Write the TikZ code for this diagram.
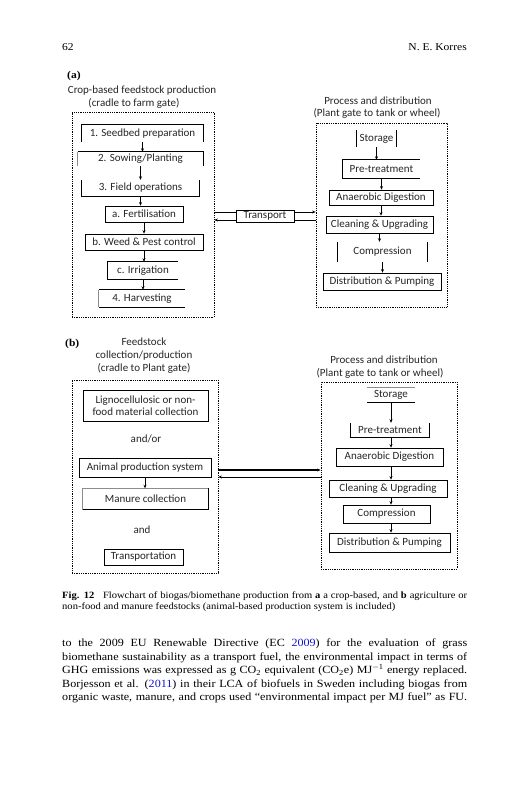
\documentclass[tikz,border=0pt]{standalone}
\usepackage{fontspec}
\setmainfont{Liberation Serif}[FakeStretch=1.1]
\newfontfamily\dfont{Carlito}
\usetikzlibrary{arrows.meta}
\definecolor{linkblue}{RGB}{20,20,210}
\begin{document}
\begin{tikzpicture}[x=1pt,y=-1pt,
  dtext/.style={font=\dfont\fontsize{11}{12.5}\selectfont, inner sep=0pt, text=black!85},
  bx/.style={dtext, rectangle, align=center},
  full/.style={draw, line width=0.7pt},
  edge/.style={line width=0.7pt},
  gedge/.style={line width=0.7pt, draw=black!45},
  arr/.style={-{Stealth[length=3.5pt,width=3pt]}, line width=0.6pt},
  dbox/.style={draw, densely dotted, line width=0.8pt, inner sep=0pt},
  serif/.style={inner sep=0pt, font=\fontsize{10.5}{12}\selectfont},
  body/.style={anchor=base west, inner sep=0pt, font=\fontsize{11}{13.5}\selectfont},
  capt/.style={anchor=base west, inner sep=0pt, font=\fontsize{9.6}{11}\selectfont}]
\useasboundingbox (0,0) rectangle (527,800);
\fill[white] (0,0) rectangle (527,800);

% page header
\node[serif, anchor=base west] (pg) at (62,51) {62};
\node[serif, anchor=base east] (au) at (467,51) {N. E. Korres};

% ---------------- (a) ----------------
\node[serif, anchor=west, font=\bfseries\fontsize{10.5}{12}\selectfont] (la) at (67,76) {(a)};
\node[dtext] (ha1) at (142,91) {Crop-based feedstock production};
\node[dtext] (ha2) at (134,103) {(cradle to farm gate)};
\node[dtext] (ha3) at (378,101) {Process and distribution};
\node[dtext] (ha4) at (377,113) {(Plant gate to tank or wheel)};

\node[dbox, minimum width=142pt, minimum height=205pt] (L1) at (143,214.5) {};
\node[dbox, minimum width=131pt, minimum height=184pt] (R1) at (381.5,215) {};

\node[bx, minimum width=121pt, minimum height=17pt] (a1) at (142.5,133.5) {1. Seedbed preparation};
\draw[edge] (a1.south west) -- (a1.north west) -- (a1.north east) -- (a1.south east);
\node[bx, minimum width=125pt, minimum height=14pt] (a2) at (140.5,159) {2. Sowing/Planting};
\draw[edge] (a2.north west) -- (a2.north east) -- (a2.south east);
\draw[gedge] (a2.north west) -- (a2.south west);
\node[bx, minimum width=117pt, minimum height=16pt] (a3) at (140.5,188) {3. Field operations};
\draw[edge] (a3.north west) -- (a3.south west) -- (a3.south east) -- (a3.north east);
\node[bx, full, minimum width=78pt, minimum height=16pt] (a4) at (144,214) {a. Fertilisation};
\node[bx, full, minimum width=118pt, minimum height=16pt] (a5) at (144,242) {b. Weed \& Pest control};
\node[bx, minimum width=70pt, minimum height=17pt] (a6) at (143,270.5) {c. Irrigation};
\draw[edge] (a6.north east) -- (a6.north west) -- (a6.south west) -- (a6.south east);
\node[bx, minimum width=86pt, minimum height=17pt] (a7) at (142,298.5) {4. Harvesting};
\draw[edge] (a7.north east) -- (a7.north west);
\draw[edge] (a7.south west) -- (a7.south east);
\draw[gedge] (a7.north west) -- (a7.south west);

\draw[arr] (a1.south) -- (a1.south |- a2.north);
\draw[arr] (a2.south) -- (a2.south |- a3.north);
\draw[arr] (a3.south) -- (a3.south |- a4.north);
\draw[arr] (a4.south) -- (a4.south |- a5.north);
\draw[arr] (a5.south) -- (a5.south |- a6.north);
\draw[arr] (a6.south) -- (a6.south |- a7.north);

\node[bx, full, minimum width=58pt, minimum height=12pt] (T) at (265,216) {Transport};
\draw[edge] ([yshift=4pt]T.west) -- ([yshift=4pt]T.west -| L1.east);
\draw[arr] ([yshift=4pt]T.east) -- ([yshift=4pt]T.east -| R1.west);
\draw[edge] ([yshift=-4pt]T.east) -- ([yshift=-4pt]T.east -| R1.west);
\draw[arr] ([yshift=-4pt]T.west) -- ([yshift=-4pt]T.west -| L1.east);

\node[bx, minimum width=39pt, minimum height=17pt] (r1) at (376.5,138.5) {Storage};
\draw[edge] (r1.north west) -- (r1.south west);
\draw[edge] (r1.north east) -- (r1.south east);
\node[bx, minimum width=77pt, minimum height=18pt] (r2) at (381.5,169) {Pre-treatment};
\draw[edge] (r2.north east) -- (r2.north west) -- (r2.south west) -- (r2.south east);
\node[bx, full, minimum width=104pt, minimum height=15pt] (r3) at (381,197.5) {Anaerobic Digestion};
\node[bx, full, minimum width=107pt, minimum height=17pt] (r4) at (379.5,224.5) {Cleaning \& Upgrading};
\node[bx, minimum width=89pt, minimum height=20pt] (r5) at (382.5,252) {Compression};
\draw[edge] (r5.north west) -- (r5.south west);
\draw[edge] (r5.north east) -- (r5.south east);
\node[bx, full, minimum width=118pt, minimum height=17pt] (r6) at (382,281.5) {Distribution \& Pumping};

\draw[arr] (r1.south) -- (r1.south |- r2.north);
\draw[arr] (r2.south) -- (r2.south |- r3.north);
\draw[arr] (r3.south) -- (r3.south |- r4.north);
\draw[arr] (r4.south) -- (r4.south |- r5.north);
\draw[arr] (r5.south) -- (r5.south |- r6.north);

% ---------------- (b) ----------------
\node[serif, anchor=west, font=\bfseries\fontsize{10.5}{12}\selectfont] (lb) at (65,344) {(b)};
\node[dtext] (hb1) at (144,342) {Feedstock};
\node[dtext] (hb2) at (144,356) {collection/production};
\node[dtext] (hb3) at (144,368) {(cradle to Plant gate)};
\node[dtext] (hb4) at (384,360) {Process and distribution};
\node[dtext] (hb5) at (380,373) {(Plant gate to tank or wheel)};

\node[dbox, minimum width=146pt, minimum height=193pt] (L2) at (145,476.5) {};
\node[dbox, minimum width=136pt, minimum height=187pt] (R2) at (389,475.5) {};

\node[bx, full, minimum width=125pt, minimum height=31pt] (b1) at (145.5,405.5) {Lignocellulosic or non-\\food material collection};
\node[dtext] (andor) at (146,439) {and/or};
\node[bx, full, minimum width=132pt, minimum height=19pt] (b2) at (145,467.5) {Animal production system};
\node[bx, minimum width=125pt, minimum height=21pt] (b3) at (145.5,499) {Manure collection};
\draw[gedge] (b3.south west) -- (b3.north west) -- (b3.north east);
\draw[edge] (b3.north east) -- (b3.south east) -- (b3.south west);
\node[dtext] (and) at (142,530) {and};
\node[bx, full, minimum width=79pt, minimum height=16pt] (b4) at (143.5,557) {Transportation};
\draw[arr] (b2.south) -- (b2.south |- b3.north);

\draw[arr, line width=1.5pt] ([yshift=-2.5pt]L2.east |- b2.center) -- ([yshift=-2.5pt]R2.west |- b2.center);
\draw[arr] ([yshift=-9.5pt]R2.west |- b2.center) -- ([yshift=-9.5pt]L2.east |- b2.center);

\node[bx, minimum width=48pt, minimum height=14pt] (s1) at (391,395) {Storage};
\draw[gedge] (s1.north west) -- (s1.north east);
\draw[edge] (s1.south west) -- (s1.south east);
\node[bx, minimum width=78pt, minimum height=14pt] (s2) at (390,430) {Pre-treatment};
\draw[edge] (s2.north west) -- (s2.south west) -- (s2.south east) -- (s2.north east);
\node[bx, full, minimum width=107pt, minimum height=18pt] (s3) at (389.5,457) {Anaerobic Digestion};
\node[bx, full, minimum width=118pt, minimum height=17pt] (s4) at (388,488.5) {Cleaning \& Upgrading};
\node[bx, full, minimum width=87pt, minimum height=18pt] (s5) at (386.5,514) {Compression};
\node[bx, full, minimum width=121pt, minimum height=19pt] (s6) at (389.5,542.5) {Distribution \& Pumping};

\draw[arr] (s1.south) -- (s1.south |- s2.north);
\draw[arr] (s1.south |- s2.south) -- (s1.south |- s3.north);
\draw[arr] (s1.south |- s3.south) -- (s1.south |- s4.north);
\draw[arr] (s1.south |- s4.south) -- (s1.south |- s5.north);
\draw[arr] (s1.south |- s5.south) -- (s1.south |- s6.north);

% ---------------- caption ----------------
\node[capt] (c1) at (62,598.5) {\makebox[405pt][s]{\textbf{Fig. 12}\hspace{0.9em}Flowchart of biogas/biomethane production from \textbf{a} a crop-based, and \textbf{b} agriculture or}};
\node[capt] (c2) at (62,609.5) {non-food and manure feedstocks (animal-based production system is included)};

% ---------------- body text ----------------
\node[body] (t1) at (62,646.5) {\makebox[405pt][s]{to the 2009 EU Renewable Directive (EC \textcolor{linkblue}{2009}) for the evaluation of grass}};
\node[body] (t2) at (62,660) {\makebox[405pt][s]{biomethane sustainability as a transport fuel, the environmental impact in terms of}};
\node[body] (t3) at (62,673.5) {\makebox[405pt][s]{GHG emissions was expressed as g CO\textsubscript{2} equivalent (CO\textsubscript{2}e) MJ\textsuperscript{$-$1} energy replaced.}};
\node[body] (t4) at (62,687) {\makebox[405pt][s]{Borjesson et al. (\textcolor{linkblue}{2011}) in their LCA of biofuels in Sweden including biogas from}};
\node[body] (t5) at (62,700.5) {\makebox[405pt][s]{organic waste, manure, and crops used “environmental impact per MJ fuel” as FU.}};
\end{tikzpicture}
\end{document}
